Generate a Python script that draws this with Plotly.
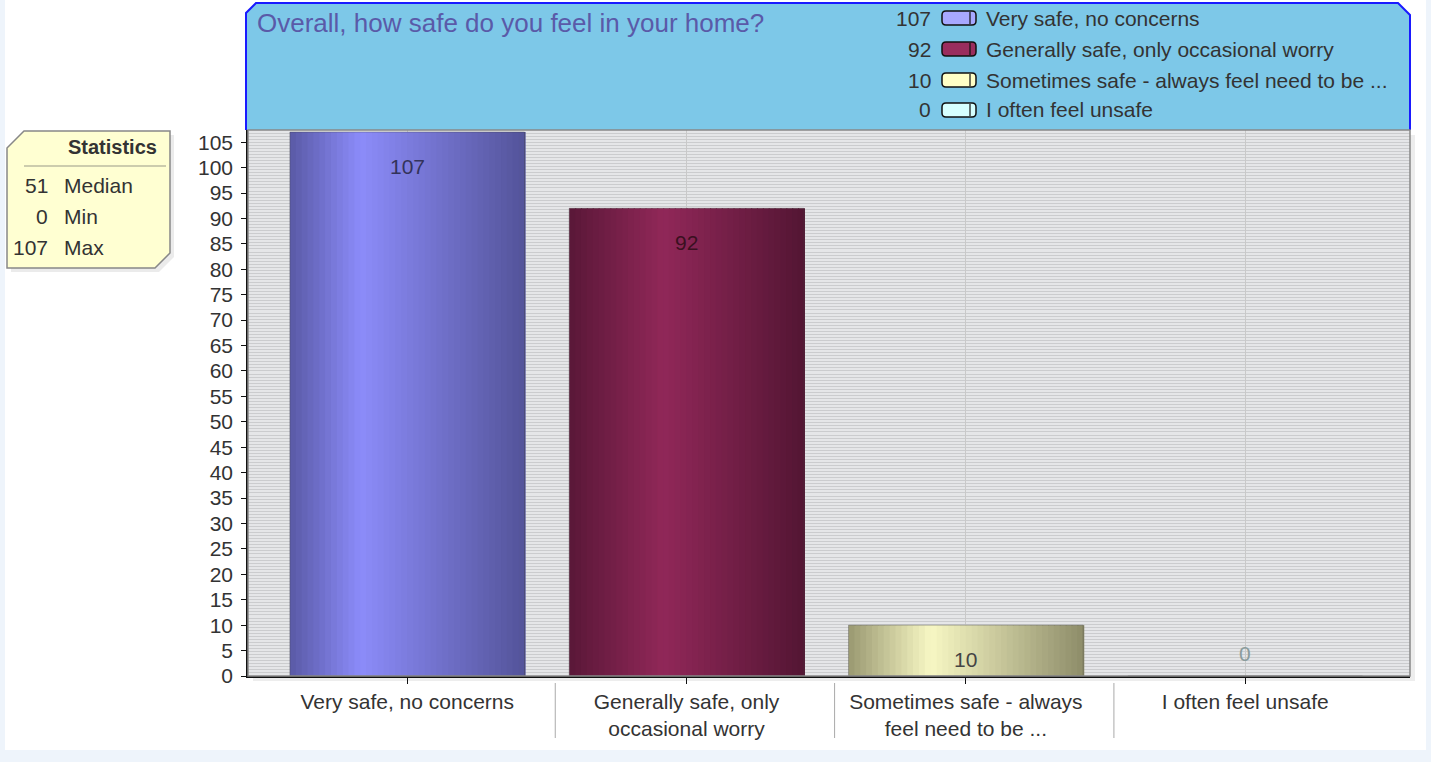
import numpy as np
import plotly.graph_objects as go

# ---- data ----
categories = [
    "Very safe, no concerns",
    "Generally safe, only occasional worry",
    "Sometimes safe - always feel need to be ...",
    "I often feel unsafe",
]
axis_labels = [
    "Very safe, no concerns",
    "Generally safe, only<br>occasional worry",
    "Sometimes safe - always<br>feel need to be ...",
    "I often feel unsafe",
]
counts = [107, 92, 10, 0]
title_text = "Overall, how safe do you feel in your home?"
y_ticks = list(range(0, 110, 5))

# gradient colours for each bar: left edge, highlight, right edge
bar_left = ["#5a5aa6", "#5a1838", "#9a9972", "#a8d8d8"]
bar_mid = ["#8c8cfa", "#912859", "#f8f8c4", "#e0ffff"]
bar_right = ["#54549a", "#541634", "#8e8d6a", "#98c8c8"]
highlight_pos = [0.3, 0.4, 0.35, 0.35]
swatch_colors = ["#a8a8ff", "#9a2d5e", "#ffffc6", "#d6ffff"]
label_colors = ["#33335a", "#3a1020", "#444444", "#8a9c9c"]

W, H = 1431, 762
L, R, T, B = 248, 1410, 130, 676  # plot area in page pixels
FONT = "Liberation Sans, Arial, sans-serif"
TXT = "#333333"
FS = 21


def px(x):
    return (x - L) / (R - L)


def py(y):
    return (B - y) / (B - T)


def hex_rgb(h):
    h = h.lstrip("#")
    return np.array([int(h[i:i + 2], 16) for i in (0, 2, 4)], dtype=float)


def grad_color(i, t):
    # colour at fraction t across bar i
    p = highlight_pos[i]
    if t <= p:
        a, b, f = hex_rgb(bar_left[i]), hex_rgb(bar_mid[i]), t / p
    else:
        a, b, f = hex_rgb(bar_mid[i]), hex_rgb(bar_right[i]), (t - p) / (1 - p)
    c = a + (b - a) * f
    return "rgb(%d,%d,%d)" % tuple(c)


fig = go.Figure()

# gradient bars drawn as thin overlaid slices
bar_w = 0.84
n_slices = 40
for k in range(n_slices):
    t = (k + 0.5) / n_slices
    fig.add_trace(
        go.Bar(
            x=categories,
            y=counts,
            width=bar_w / n_slices + 0.004,
            offset=-bar_w / 2 + k * bar_w / n_slices,
            marker=dict(color=[grad_color(i, t) for i in range(len(counts))], line_width=0),
            hoverinfo="skip",
            showlegend=False,
        )
    )
# thin outline on each bar
fig.add_trace(
    go.Bar(
        x=categories,
        y=counts,
        width=bar_w,
        offset=-bar_w / 2,
        marker=dict(color="rgba(0,0,0,0)", line=dict(color="rgba(60,60,60,0.35)", width=1)),
        hovertemplate="%{x}: %{y}<extra></extra>",
        showlegend=False,
    )
)

shapes = []
annotations = []

# light page edges
for x0, y0, x1, y1 in [(0, 750, W, H), (0, 0, 5, H), (1426, 0, W, H)]:
    shapes.append(dict(type="rect", xref="paper", yref="paper", layer="below",
                       x0=px(x0), x1=px(x1), y0=py(y1), y1=py(y0),
                       fillcolor="#eef4fb", line_width=0))
# soft shadow right and below plot area
shapes.append(dict(type="rect", xref="paper", yref="paper", layer="below",
                   x0=px(R), x1=px(R + 5), y0=py(B + 5), y1=py(T + 5),
                   fillcolor="rgba(0,0,0,0.07)", line_width=0))
shapes.append(dict(type="rect", xref="paper", yref="paper", layer="below",
                   x0=px(L + 5), x1=px(R), y0=py(B + 5), y1=py(B),
                   fillcolor="rgba(0,0,0,0.07)", line_width=0))


def path(points, close=True):
    s = "M %f,%f " % (px(points[0][0]), py(points[0][1]))
    s += " ".join("L %f,%f" % (px(x), py(y)) for x, y in points[1:])
    return s + (" Z" if close else "")


# header panel
hdr = [(246, 130), (246, 13), (256, 3), (1398, 3), (1410, 15), (1410, 130)]
shapes.append(dict(type="path", xref="paper", yref="paper", path=path(hdr),
                   fillcolor="#7dc8e8", line_width=0))
shapes.append(dict(type="path", xref="paper", yref="paper", path=path(hdr, close=False),
                   fillcolor="rgba(0,0,0,0)", line=dict(color="#1a1aff", width=2)))
annotations.append(dict(xref="paper", yref="paper", x=px(255), y=py(23), xanchor="left",
                        yanchor="middle", text=title_text, showarrow=False,
                        font=dict(family=FONT, size=26, color="#5a5aa8")))

# legend rows
row_y = [18, 49, 80, 110]
for i, cat in enumerate(categories):
    yc = row_y[i]
    annotations.append(dict(xref="paper", yref="paper", x=px(933), y=py(yc), xanchor="right",
                            yanchor="middle", text=str(counts[i]), showarrow=False,
                            font=dict(family=FONT, size=FS, color=TXT)))
    annotations.append(dict(xref="paper", yref="paper", x=px(984), y=py(yc), xanchor="left",
                            yanchor="middle", text=cat, showarrow=False,
                            font=dict(family=FONT, size=FS, color=TXT)))
    x0, x1, y0, y1 = 942, 976, yc - 7, yc + 7
    sw = ("M %f,%f L %f,%f Q %f,%f %f,%f L %f,%f Q %f,%f %f,%f L %f,%f Q %f,%f %f,%f "
          "L %f,%f Q %f,%f %f,%f Z") % (
        px(x0 + 4), py(y0), px(x1 - 4), py(y0), px(x1), py(y0), px(x1), py(y0 + 4),
        px(x1), py(y1 - 4), px(x1), py(y1), px(x1 - 4), py(y1),
        px(x0 + 4), py(y1), px(x0), py(y1), px(x0), py(y1 - 4),
        px(x0), py(y0 + 4), px(x0), py(y0), px(x0 + 4), py(y0))
    shapes.append(dict(type="path", xref="paper", yref="paper", path=sw,
                       fillcolor=swatch_colors[i], line=dict(color="#111111", width=1.5)))
    shapes.append(dict(type="line", xref="paper", yref="paper", x0=px(970), x1=px(970),
                       y0=py(y0 + 1), y1=py(y1 - 1), line=dict(color="#111111", width=1.2)))

# statistics box
stats = [(int(np.median(counts)), "Median"), (min(counts), "Min"), (max(counts), "Max")]
sb = [(7, 148), (24, 131), (170, 131), (170, 253), (155, 268), (7, 268)]
sb_shadow = [(x + 4, y + 4) for x, y in sb]
shapes.append(dict(type="path", xref="paper", yref="paper", path=path(sb_shadow),
                   fillcolor="rgba(0,0,0,0.08)", line_width=0))
shapes.append(dict(type="path", xref="paper", yref="paper", path=path(sb),
                   fillcolor="#ffffd2", line=dict(color="#888888", width=1.5)))
shapes.append(dict(type="line", xref="paper", yref="paper", x0=px(24), x1=px(166),
                   y0=py(166), y1=py(166), line=dict(color="#999988", width=1)))
annotations.append(dict(xref="paper", yref="paper", x=px(159), y=py(147), xanchor="right",
                        yanchor="middle", text="<b>Statistics</b>", showarrow=False,
                        font=dict(family=FONT, size=20, color=TXT)))
for j, (v, name) in enumerate(stats):
    yc = 185 + 31 * j
    annotations.append(dict(xref="paper", yref="paper", x=px(50), y=py(yc), xanchor="right",
                            yanchor="middle", text=str(v), showarrow=False,
                            font=dict(family=FONT, size=FS, color=TXT)))
    annotations.append(dict(xref="paper", yref="paper", x=px(62), y=py(yc), xanchor="left",
                            yanchor="middle", text=name, showarrow=False,
                            font=dict(family=FONT, size=FS, color=TXT)))

# value labels in the bars
for i, v in enumerate(counts):
    if v > 0:
        annotations.append(dict(x=categories[i], y=v, yanchor="top", yshift=-21, text=str(v),
                                showarrow=False, font=dict(family=FONT, size=FS, color=label_colors[i])))
    else:
        annotations.append(dict(x=categories[i], y=v, yanchor="bottom", yshift=9, text=str(v),
                                showarrow=False, font=dict(family=FONT, size=FS, color=label_colors[i])))

# separators between x labels
for i in range(len(categories) - 1):
    shapes.append(dict(type="line", xref="x", yref="paper", x0=i + 0.53, x1=i + 0.53,
                       y0=py(683), y1=py(738), line=dict(color="#aaaaaa", width=1)))

# plot border (gray top/right)
shapes.append(dict(type="rect", xref="paper", yref="paper", x0=0, x1=1, y0=0, y1=1,
                   line=dict(color="#888888", width=1.5)))

fig.update_layout(
    width=W,
    height=H,
    margin=dict(l=L, r=W - R, t=T, b=H - B, pad=0),
    barmode="overlay",
    paper_bgcolor="white",
    plot_bgcolor="#e5e6e8",
    showlegend=False,
    shapes=shapes,
    annotations=annotations,
    font=dict(family=FONT, size=FS, color=TXT),
)
fig.update_xaxes(
    range=[-0.57, 3.59],
    tickvals=categories,
    ticktext=axis_labels,
    showgrid=True,
    gridcolor="#c9c9c9",
    showline=True,
    linecolor="#111111",
    linewidth=1.5,
    ticks="outside",
    ticklen=6,
    tickcolor="#111111",
    zeroline=False,
    tickfont=dict(family=FONT, size=FS, color=TXT),
)
fig.update_yaxes(
    range=[0, 107.4],
    tickvals=y_ticks,
    showgrid=False,
    minor=dict(dtick=0.6, showgrid=True, gridcolor="#cbccce", gridwidth=1),
    showline=True,
    linecolor="#111111",
    linewidth=1.5,
    ticks="outside",
    ticklen=5,
    tickcolor="#111111",
    zeroline=False,
    ticklabelstandoff=4,
    tickfont=dict(family=FONT, size=FS, color=TXT),
)

# drop the default page margin so the figure sits at the window's corner
fig.write_html(
    "out.html",
    config={"displayModeBar": False},
    post_script="document.body.style.margin='0';",
)
